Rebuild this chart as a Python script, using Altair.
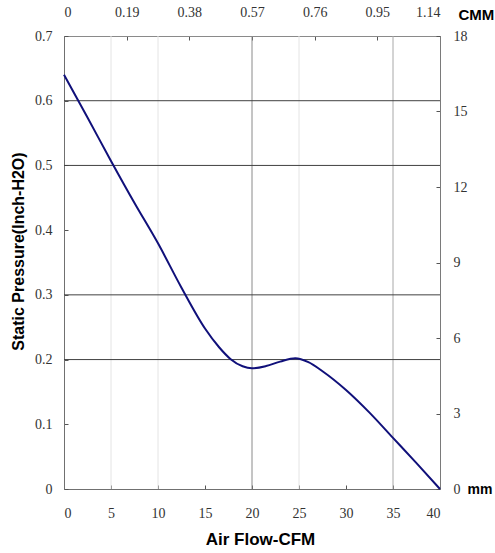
import altair as alt
import pandas as pd

# ---- data ----
cfm = [0, 2.5, 5, 7.5, 10, 12.5, 15, 16.5, 17.7, 19, 20, 21.5, 23, 24.6, 26, 27.5, 30, 32.5, 35, 37.5, 40]
pressure = [0.640, 0.574, 0.507, 0.442, 0.3796, 0.311, 0.248, 0.219, 0.201, 0.1896, 0.1865, 0.190,
            0.1968, 0.202, 0.196, 0.182, 0.153, 0.118, 0.079, 0.040, 0.0]

cfm_ticks = [0, 5, 10, 15, 20, 25, 30, 35, 40]
pressure_ticks = [0, 0.1, 0.2, 0.3, 0.4, 0.5, 0.6, 0.7]
cmm_ticks = [0, 0.19, 0.38, 0.57, 0.76, 0.95, 1.14]
mm_ticks = [0, 3, 6, 9, 12, 15, 18]

vgrid_light = [5, 10, 25]
vgrid_mid = [20]
vgrid_soft = [35]
hgrid = [0.2, 0.3, 0.5, 0.6]

df = pd.DataFrame({"cfm": cfm, "p": pressure})
sec = pd.DataFrame({"cmm": [cmm_ticks[0], cmm_ticks[-1]], "mm": [mm_ticks[0], mm_ticks[-1]]})

W, H = 376, 453
LABEL_FONT = "Liberation Serif"
TITLE_FONT = "Liberation Sans"

xs = alt.Scale(domain=[0, 40], nice=False, zero=False)
ys = alt.Scale(domain=[0, 0.7], nice=False, zero=False)
xs2 = alt.Scale(domain=[0, 1.14], nice=False, zero=False)
ys2 = alt.Scale(domain=[0, 18], nice=False, zero=False)

def vrule(vals, color):
    return alt.Chart(pd.DataFrame({"v": vals})).mark_rule(color=color, strokeWidth=1).encode(
        x=alt.X("v:Q", scale=xs, axis=None))

def hrule(vals, color):
    return alt.Chart(pd.DataFrame({"v": vals})).mark_rule(color=color, strokeWidth=1).encode(
        y=alt.Y("v:Q", scale=ys, axis=None))

grid_light = vrule(vgrid_light, "#e4e4e4")
grid_mid = vrule(vgrid_mid, "#8a8a8a")
grid_soft = vrule(vgrid_soft, "#a8a8a8")
grid_h = hrule(hgrid, "#404040")

line = alt.Chart(df).mark_line(color="#10107a", strokeWidth=2, interpolate="monotone").encode(
    x=alt.X("cfm:Q", scale=xs, axis=alt.Axis(
        orient="bottom", values=cfm_ticks, format="~g", grid=False, tickSize=0,
        labelPadding=17, labelFont=LABEL_FONT, labelFontSize=14, labelColor="#333333",
        domainColor="#707070", title="Air Flow-CFM", titleFont=TITLE_FONT,
        titleFontSize=17, titleFontWeight="bold", titleColor="#000000",
        titleX=196, titleY=50, titleAlign="center", titleBaseline="middle")),
    y=alt.Y("p:Q", scale=ys, axis=alt.Axis(
        orient="left", values=pressure_ticks, format=".1~f", grid=False, tickSize=0,
        labelPadding=12, labelFont=LABEL_FONT, labelFontSize=14, labelColor="#333333",
        domainColor="#707070", title="Static Pressure(Inch-H2O)", titleFont=TITLE_FONT,
        titleFontSize=16, titleFontWeight="bold", titleColor="#000000",
        titleAngle=270, titleX=-46, titleY=215, titleAlign="center", titleBaseline="middle")),
)

secondary = alt.Chart(sec).mark_point(opacity=0).encode(
    x=alt.X("cmm:Q", scale=xs2, axis=alt.Axis(
        orient="top", values=cmm_ticks, format=".2~f", grid=False, tickSize=0,
        labelPadding=17, labelFont=LABEL_FONT, labelFontSize=14, labelColor="#333333",
        domainColor="#8a8a8a", title="CMM", titleFont=TITLE_FONT, titleFontSize=15,
        titleFontWeight="bold", titleColor="#000000", titleX=394, titleY=-22,
        titleAlign="left", titleBaseline="middle")),
    y=alt.Y("mm:Q", scale=ys2, axis=alt.Axis(
        orient="right", values=mm_ticks, format="~g", grid=False, tickSize=0,
        labelPadding=13, labelFont=LABEL_FONT, labelFontSize=14, labelColor="#333333",
        domainColor="#7a7a7a", title="mm", titleFont=TITLE_FONT, titleFontSize=14,
        titleFontWeight="bold", titleColor="#000000", titleAngle=0, titleX=27, titleY=H,
        titleAlign="left", titleBaseline="middle")),
)

tick_kw = dict(labels=False, domain=False, grid=False, tickSize=4, tickColor="#555555", title=None)

ticks_main = alt.Chart(df).mark_point(opacity=0).encode(
    x=alt.X("cfm:Q", scale=xs, axis=alt.Axis(orient="bottom", offset=-4, values=cfm_ticks, **tick_kw)),
    y=alt.Y("p:Q", scale=ys, axis=alt.Axis(orient="left", offset=-4, values=pressure_ticks, **tick_kw)),
)
ticks_sec = alt.Chart(sec).mark_point(opacity=0).encode(
    x=alt.X("cmm:Q", scale=xs2, axis=alt.Axis(orient="top", offset=-4, values=cmm_ticks, **tick_kw)),
    y=alt.Y("mm:Q", scale=ys2, axis=alt.Axis(orient="right", offset=-4, values=mm_ticks, **tick_kw)),
)

chart = alt.layer(
    grid_light, grid_mid, grid_soft, grid_h, ticks_main, ticks_sec, secondary, line
).resolve_scale(x="independent", y="independent").resolve_axis(
    x="independent", y="independent"
).properties(
    width=W, height=H,
    autosize=alt.AutoSizeParams(type="none"),
    padding={"left": 64, "top": 36, "right": 495 - 64 - W, "bottom": 553 - 36 - H},
).configure_view(stroke=None).configure(background="#ffffff")

chart.save("out.html", embed_options={"renderer": "svg", "actions": False})
